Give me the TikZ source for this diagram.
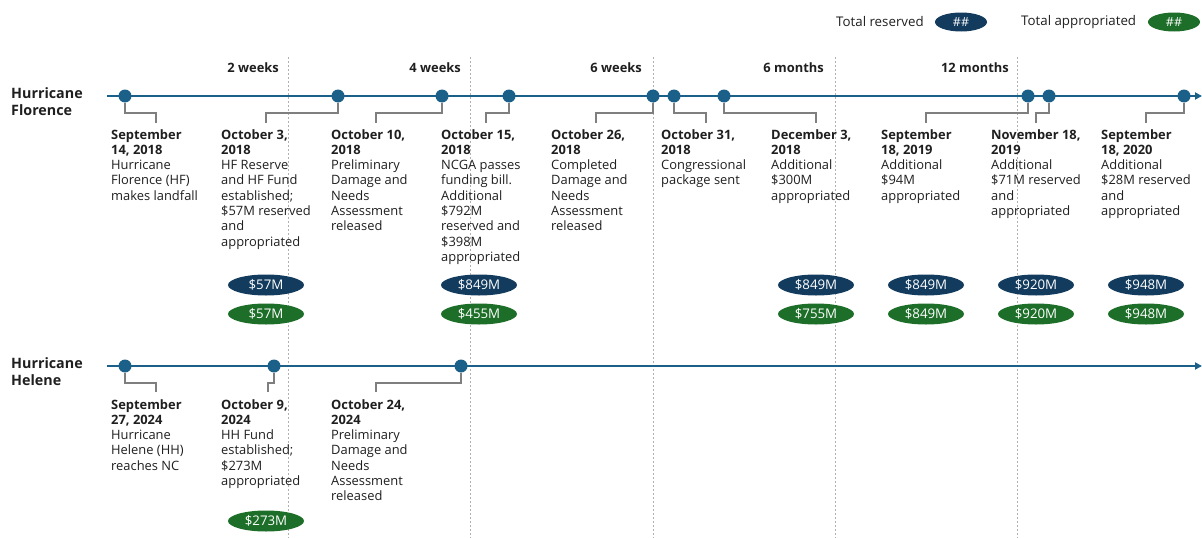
\documentclass[tikz,border=0pt]{standalone}
\usepackage{fontspec}
\setmainfont{Open Sans}
\usetikzlibrary{shapes.geometric,arrows.meta,calc}
\definecolor{tl}{HTML}{1B6088}
\definecolor{res}{HTML}{123B5E}
\definecolor{app}{HTML}{1D6E28}
\definecolor{conn}{HTML}{7F7F7F}
\definecolor{txt}{HTML}{1F1F1F}
\definecolor{dsh}{HTML}{B0B0B0}
\begin{document}
\begin{tikzpicture}[x=1pt,y=-1pt,
  dot/.style={circle, fill=tl, minimum size=13pt, inner sep=0pt},
  evt/.style={anchor=north west, align=left, inner sep=0pt, text=txt,
    font=\fontsize{12.9}{15.3}\selectfont},
  pill/.style={ellipse, minimum width=76pt, minimum height=21pt, inner sep=0pt,
    text=white, font=\fontsize{13.3}{14}\selectfont},
  respill/.style={pill, fill=res},
  apppill/.style={pill, fill=app},
  legpill/.style={ellipse, minimum width=52pt, minimum height=19pt, inner sep=0pt,
    text=white, font=\fontsize{12.5}{13}\selectfont},
  connector/.style={draw=conn, line width=1.8pt},
  tline/.style={draw=tl, line width=2pt, -{Triangle[length=7pt,width=7pt]}},
  period/.style={anchor=east, inner sep=0pt, text=txt,
    font=\fontsize{12.9}{15}\selectfont\bfseries},
  divider/.style={draw=dsh, line width=0.6pt, dash pattern=on 2pt off 2pt},
  hname/.style={anchor=north west, align=left, inner sep=0pt, text=txt,
    font=\fontsize{14.3}{17}\selectfont\bfseries},
  legtext/.style={anchor=west, inner sep=0pt, text=txt,
    font=\fontsize{13.3}{14}\selectfont}
]
\useasboundingbox (0,0) rectangle (1202,538);

% dividers
\foreach \x/\n in {288/d1,470/d2,653/d3,835/d4,1017/d5}{
  \coordinate (\n t) at (\x,57);
  \coordinate (\n b) at (\x,538);
  \draw[divider] (\n t) -- (\n b);
}

% period labels
\node[period] (p1) at (279,68) {2 weeks};
\node[period] (p2) at (461,68) {4 weeks};
\node[period] (p3) at (642,68) {6 weeks};
\node[period] (p4) at (824,68) {6 months};
\node[period] (p5) at (1009,68) {12 months};

% legend
\node[legtext] (lr) at (836,22) {Total reserved};
\node[legpill, fill=res] (lrp) at (961,22) {\#\#};
\node[legtext] (la) at (1021,22) {Total appropriated};
\node[legpill, fill=app] (lap) at (1174,22) {\#\#};

% hurricane names
\node[hname] (hf) at (11,87) {Hurricane\\Florence};
\node[hname] (hh) at (11,357) {Hurricane\\Helene};

% timelines
\coordinate (fs) at (107,96);
\coordinate (fe) at (1202,96);
\coordinate (hs) at (107,366);
\coordinate (he) at (1202,366);
\draw[tline] (fs) -- (fe);
\draw[tline] (hs) -- (he);

% Florence dots
\foreach \x [count=\i] in {125,338,442,509,653,674,724,1028,1049,1184}{
  \node[dot] (f\i) at (\x,96) {};
}
% Helene dots
\foreach \x [count=\i] in {125,274,461}{
  \node[dot] (h\i) at (\x,366) {};
}

% Florence event texts
\node[evt] (tf1) at (111,129) {\textbf{September}\\\textbf{14, 2018}\\Hurricane\\Florence (HF)\\makes landfall};
\node[evt] (tf2) at (221,129) {\textbf{October 3,}\\\textbf{2018}\\HF Reserve\\and HF Fund\\established;\\\$57M reserved\\and\\appropriated};
\node[evt] (tf3) at (331,129) {\textbf{October 10,}\\\textbf{2018}\\Preliminary\\Damage and\\Needs\\Assessment\\released};
\node[evt] (tf4) at (441,129) {\textbf{October 15,}\\\textbf{2018}\\NCGA passes\\funding bill.\\Additional\\\$792M\\reserved and\\\$398M\\appropriated};
\node[evt] (tf5) at (551,129) {\textbf{October 26,}\\\textbf{2018}\\Completed\\Damage and\\Needs\\Assessment\\released};
\node[evt] (tf6) at (661,129) {\textbf{October 31,}\\\textbf{2018}\\Congressional\\package sent};
\node[evt] (tf7) at (771,129) {\textbf{December 3,}\\\textbf{2018}\\Additional\\\$300M\\appropriated};
\node[evt] (tf8) at (881,129) {\textbf{September}\\\textbf{18, 2019}\\Additional\\\$94M\\appropriated};
\node[evt] (tf9) at (991,129) {\textbf{November 18,}\\\textbf{2019}\\Additional\\\$71M reserved\\and\\appropriated};
\node[evt] (tf10) at (1101,129) {\textbf{September}\\\textbf{18, 2020}\\Additional\\\$28M reserved\\and\\appropriated};

% Helene event texts
\node[evt] (th1) at (111,399) {\textbf{September}\\\textbf{27, 2024}\\Hurricane\\Helene (HH)\\reaches NC};
\node[evt] (th2) at (221,399) {\textbf{October 9,}\\\textbf{2024}\\HH Fund\\established;\\\$273M\\appropriated};
\node[evt] (th3) at (331,399) {\textbf{October 24,}\\\textbf{2024}\\Preliminary\\Damage and\\Needs\\Assessment\\released};

% connector ends
\foreach \i/\x in {1/156,2/266,3/376,4/486,5/596,6/706,7/816,8/926,9/1036,10/1146}{
  \coordinate (cf\i) at (\x,123);
  \draw[connector] (f\i.south) |- ($(cf\i)+(0,-10)$) -- (cf\i);
}
\foreach \i/\x in {1/156,2/268,3/376}{
  \coordinate (ch\i) at (\x,392);
  \draw[connector] (h\i.south) |- ($(ch\i)+(0,-9)$) -- (ch\i);
}

% pills Florence
\node[respill] (rf2) at (266,285) {\$57M};
\node[apppill] (af2) at (266,314) {\$57M};
\node[respill] (rf4) at (479,285) {\$849M};
\node[apppill] (af4) at (479,314) {\$455M};
\node[respill] (rf7) at (816,285) {\$849M};
\node[apppill] (af7) at (816,314) {\$755M};
\node[respill] (rf8) at (926,285) {\$849M};
\node[apppill] (af8) at (926,314) {\$849M};
\node[respill] (rf9) at (1036,285) {\$920M};
\node[apppill] (af9) at (1036,314) {\$920M};
\node[respill] (rf10) at (1146,285) {\$948M};
\node[apppill] (af10) at (1146,314) {\$948M};
% pill Helene
\node[apppill] (ah2) at (266,521) {\$273M};
\end{tikzpicture}
\end{document}
